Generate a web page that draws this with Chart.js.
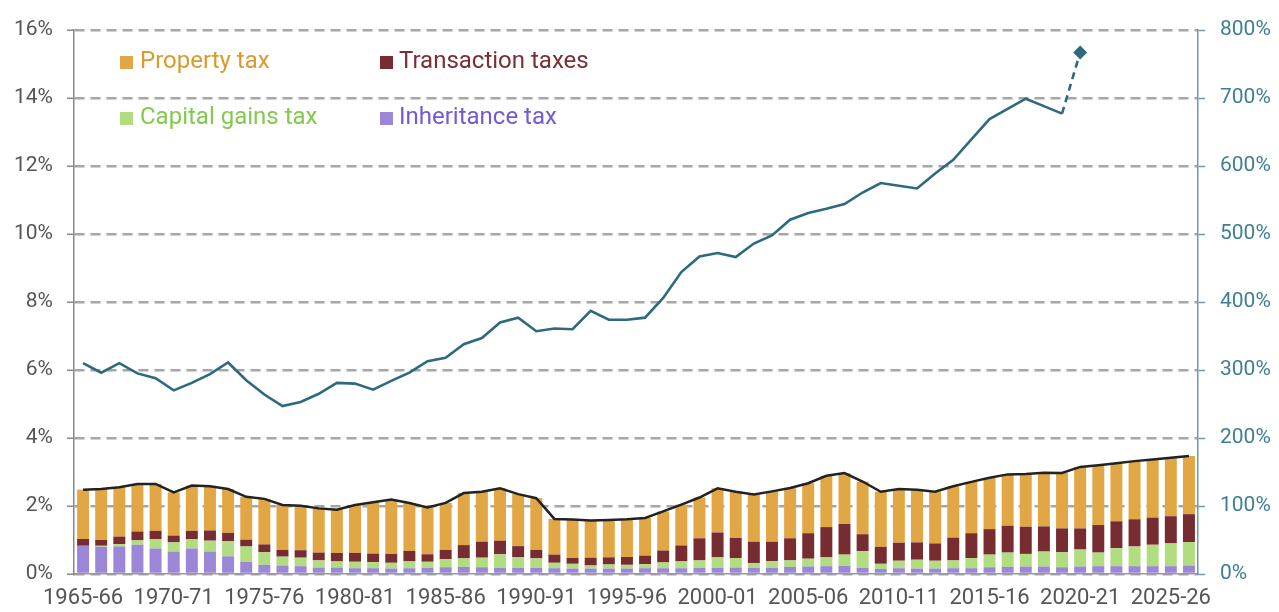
<!DOCTYPE html>
<html lang="en">
<head>
    <meta charset="UTF-8">
    <title>Property-related taxes</title>
    <script src="https://cdn.jsdelivr.net/npm/chart.js@4.4.1/dist/chart.umd.min.js"></script>
    <style>
        body { margin: 0; background: #fff; font-family: Roboto, sans-serif; }
        .wrap { position: relative; width: 1279px; height: 612px; }
        .legend-item { position: absolute; font-size: 24px; line-height: 28px; white-space: nowrap; }
        .legend-box { position: absolute; width: 13px; height: 13px; }
    </style>
</head>
<body>
    <div class="wrap">
        <canvas id="taxChart"></canvas>
        <div class="legend-box" style="left:120px; top:56px; background:#e1a744"></div>
        <div class="legend-item" style="left:140px; top:46px; color:#d99a30">Property tax</div>
        <div class="legend-box" style="left:380px; top:56px; background:#762c31"></div>
        <div class="legend-item" style="left:399px; top:46px; color:#7a2e35">Transaction taxes</div>
        <div class="legend-box" style="left:120px; top:112px; background:#b1dc80"></div>
        <div class="legend-item" style="left:140px; top:102px; color:#84c94f">Capital gains tax</div>
        <div class="legend-box" style="left:380px; top:112px; background:#9b86d8"></div>
        <div class="legend-item" style="left:399px; top:102px; color:#7559d3">Inheritance tax</div>
    </div>

    <script>
        const years = [
            '1965-66', '1966-67', '1967-68', '1968-69', '1969-70', '1970-71', '1971-72', '1972-73',
            '1973-74', '1974-75', '1975-76', '1976-77', '1977-78', '1978-79', '1979-80', '1980-81',
            '1981-82', '1982-83', '1983-84', '1984-85', '1985-86', '1986-87', '1987-88', '1988-89',
            '1989-90', '1990-91', '1991-92', '1992-93', '1993-94', '1994-95', '1995-96', '1996-97',
            '1997-98', '1998-99', '1999-00', '2000-01', '2001-02', '2002-03', '2003-04', '2004-05',
            '2005-06', '2006-07', '2007-08', '2008-09', '2009-10', '2010-11', '2011-12', '2012-13',
            '2013-14', '2014-15', '2015-16', '2016-17', '2017-18', '2018-19', '2019-20', '2020-21',
            '2021-22', '2022-23', '2023-24', '2024-25', '2025-26', '2026-27'
        ];

        // % of GDP, left axis
        const inheritanceTax = [
            0.83, 0.80, 0.81, 0.86, 0.75, 0.66, 0.75, 0.66, 0.52, 0.36, 0.27, 0.25, 0.23, 0.19, 0.19, 0.17,
            0.17, 0.16, 0.17, 0.18, 0.20, 0.21, 0.20, 0.18, 0.18, 0.18, 0.17, 0.16, 0.16, 0.16, 0.16, 0.17,
            0.17, 0.17, 0.18, 0.18, 0.19, 0.18, 0.18, 0.21, 0.22, 0.23, 0.24, 0.18, 0.15, 0.17, 0.16, 0.16,
            0.17, 0.17, 0.20, 0.21, 0.22, 0.22, 0.20, 0.22, 0.23, 0.23, 0.23, 0.23, 0.23, 0.25
        ];
        const capitalGainsTax = [
            0.00, 0.03, 0.07, 0.13, 0.28, 0.27, 0.27, 0.32, 0.45, 0.45, 0.37, 0.26, 0.25, 0.21, 0.18, 0.19,
            0.18, 0.17, 0.20, 0.18, 0.24, 0.25, 0.28, 0.40, 0.31, 0.28, 0.16, 0.14, 0.09, 0.12, 0.11, 0.12,
            0.17, 0.20, 0.22, 0.31, 0.28, 0.14, 0.20, 0.19, 0.23, 0.26, 0.33, 0.49, 0.15, 0.22, 0.26, 0.23,
            0.23, 0.30, 0.37, 0.42, 0.37, 0.44, 0.44, 0.50, 0.40, 0.53, 0.58, 0.63, 0.67, 0.69
        ];
        const transactionTaxes = [
            0.20, 0.17, 0.22, 0.26, 0.24, 0.20, 0.25, 0.30, 0.24, 0.20, 0.23, 0.20, 0.22, 0.23, 0.25, 0.26,
            0.25, 0.26, 0.31, 0.22, 0.27, 0.39, 0.47, 0.40, 0.33, 0.25, 0.24, 0.17, 0.23, 0.21, 0.23, 0.25,
            0.35, 0.47, 0.65, 0.73, 0.59, 0.63, 0.57, 0.65, 0.75, 0.89, 0.90, 0.50, 0.50, 0.53, 0.51, 0.51,
            0.67, 0.73, 0.75, 0.79, 0.80, 0.74, 0.70, 0.62, 0.81, 0.79, 0.80, 0.80, 0.80, 0.82
        ];
        const propertyTax = [
            1.45, 1.50, 1.45, 1.40, 1.38, 1.27, 1.33, 1.30, 1.29, 1.26, 1.34, 1.32, 1.31, 1.30, 1.27, 1.41,
            1.51, 1.60, 1.41, 1.38, 1.38, 1.53, 1.47, 1.54, 1.53, 1.52, 1.05, 1.13, 1.09, 1.10, 1.11, 1.11,
            1.15, 1.20, 1.20, 1.30, 1.36, 1.39, 1.48, 1.48, 1.47, 1.51, 1.50, 1.55, 1.62, 1.58, 1.55, 1.52,
            1.51, 1.51, 1.51, 1.51, 1.55, 1.58, 1.63, 1.81, 1.76, 1.71, 1.71, 1.71, 1.72, 1.71
        ];

        // right axis (%), ends in 2020-21
        const rightSeries = [
            310, 296, 310, 295, 288, 270, 281, 294, 311, 285, 264, 247, 253, 265, 281, 280,
            271, 284, 296, 313, 318, 338, 347, 370, 377, 357, 361, 360, 387, 374, 374, 377,
            406, 444, 467, 472, 466, 486, 498, 521, 531, 537, 544, 561, 575, 571, 567, 589,
            609, 639, 669, 684, 699, 688, 677, 767
        ];
        const lastIndex = rightSeries.length - 1;

        const totalTax = years.map((_, i) =>
            inheritanceTax[i] + capitalGainsTax[i] + transactionTaxes[i] + propertyTax[i]);

        const leftTicks = [0, 2, 4, 6, 8, 10, 12, 14, 16];
        const rightTicks = [0, 100, 200, 300, 400, 500, 600, 700, 800];

        Chart.defaults.font.family = 'Roboto, sans-serif';

        const barStyle = { type: 'bar', order: 2, barPercentage: 0.66, categoryPercentage: 1, borderWidth: 0 };

        new Chart(document.getElementById('taxChart'), {
            data: {
                labels: years,
                datasets: [
                    { ...barStyle, label: 'Inheritance tax', data: inheritanceTax, backgroundColor: '#9b86d8' },
                    { ...barStyle, label: 'Capital gains tax', data: capitalGainsTax, backgroundColor: '#b1dc80' },
                    { ...barStyle, label: 'Transaction taxes', data: transactionTaxes, backgroundColor: '#762c31' },
                    { ...barStyle, label: 'Property tax', data: propertyTax, backgroundColor: '#e1a744' },
                    {
                        type: 'line',
                        label: 'Total',
                        data: totalTax,
                        yAxisID: 'yTotal',
                        order: 0,
                        borderColor: '#222',
                        borderWidth: 2.5,
                        pointRadius: 0,
                        tension: 0
                    },
                    {
                        type: 'line',
                        label: 'Right axis',
                        data: rightSeries,
                        yAxisID: 'y1',
                        order: 0,
                        borderColor: '#2d6a7f',
                        backgroundColor: '#2d6a7f',
                        borderWidth: 2.6,
                        tension: 0,
                        pointStyle: 'rectRot',
                        pointRadius: (ctx) => ctx.dataIndex === lastIndex ? 7 : 0,
                        pointBorderWidth: 0,
                        segment: {
                            borderDash: (ctx) => ctx.p1DataIndex === lastIndex ? [7, 5] : undefined
                        }
                    }
                ]
            },
            options: {
                responsive: true,
                maintainAspectRatio: false,
                animation: false,
                layout: { padding: { top: 30, left: 0, right: 0, bottom: 0 } },
                plugins: {
                    legend: { display: false },
                    tooltip: { enabled: false }
                },
                scales: {
                    x: {
                        type: 'category',
                        stacked: true,
                        offset: true,
                        grid: { display: false, drawTicks: false },
                        border: { display: true, color: '#999', width: 1.5 },
                        ticks: {
                            autoSkip: false,
                            maxRotation: 0,
                            padding: 11,
                            color: '#555',
                            font: { size: 22 },
                            callback: (value, index) => index % 5 === 0 ? years[index] : ''
                        },
                        afterFit: (scale) => { scale.height = 38; }
                    },
                    y: {
                        position: 'left',
                        stacked: true,
                        min: 0,
                        max: 16,
                        afterBuildTicks: (scale) => { scale.ticks = leftTicks.map(v => ({ value: v })); },
                        grid: {
                            color: '#a6a6a6',
                            lineWidth: 2.5,
                            tickLength: 7,
                            tickColor: '#888',
                            tickWidth: 1.5,
                            tickBorderDash: []
                        },
                        border: { display: true, color: '#888', width: 1.5, dash: [10, 6] },
                        ticks: {
                            padding: 14,
                            color: '#555',
                            font: { size: 21 },
                            callback: (value) => value + '%'
                        },
                        afterFit: (scale) => { scale.width = 74; }
                    },
                    yTotal: {
                        display: false,
                        min: 0,
                        max: 16
                    },
                    y1: {
                        position: 'right',
                        min: 0,
                        max: 800,
                        afterBuildTicks: (scale) => { scale.ticks = rightTicks.map(v => ({ value: v })); },
                        grid: {
                            drawOnChartArea: false,
                            tickLength: 7,
                            tickColor: '#6a9aab',
                            tickWidth: 1.5
                        },
                        border: { display: true, color: '#6a9aab', width: 1.5 },
                        ticks: {
                            padding: 15,
                            color: '#3f7f93',
                            font: { size: 21 },
                            callback: (value) => value + '%'
                        },
                        afterFit: (scale) => { scale.width = 81; }
                    }
                }
            }
        });
    </script>
</body>
</html>
